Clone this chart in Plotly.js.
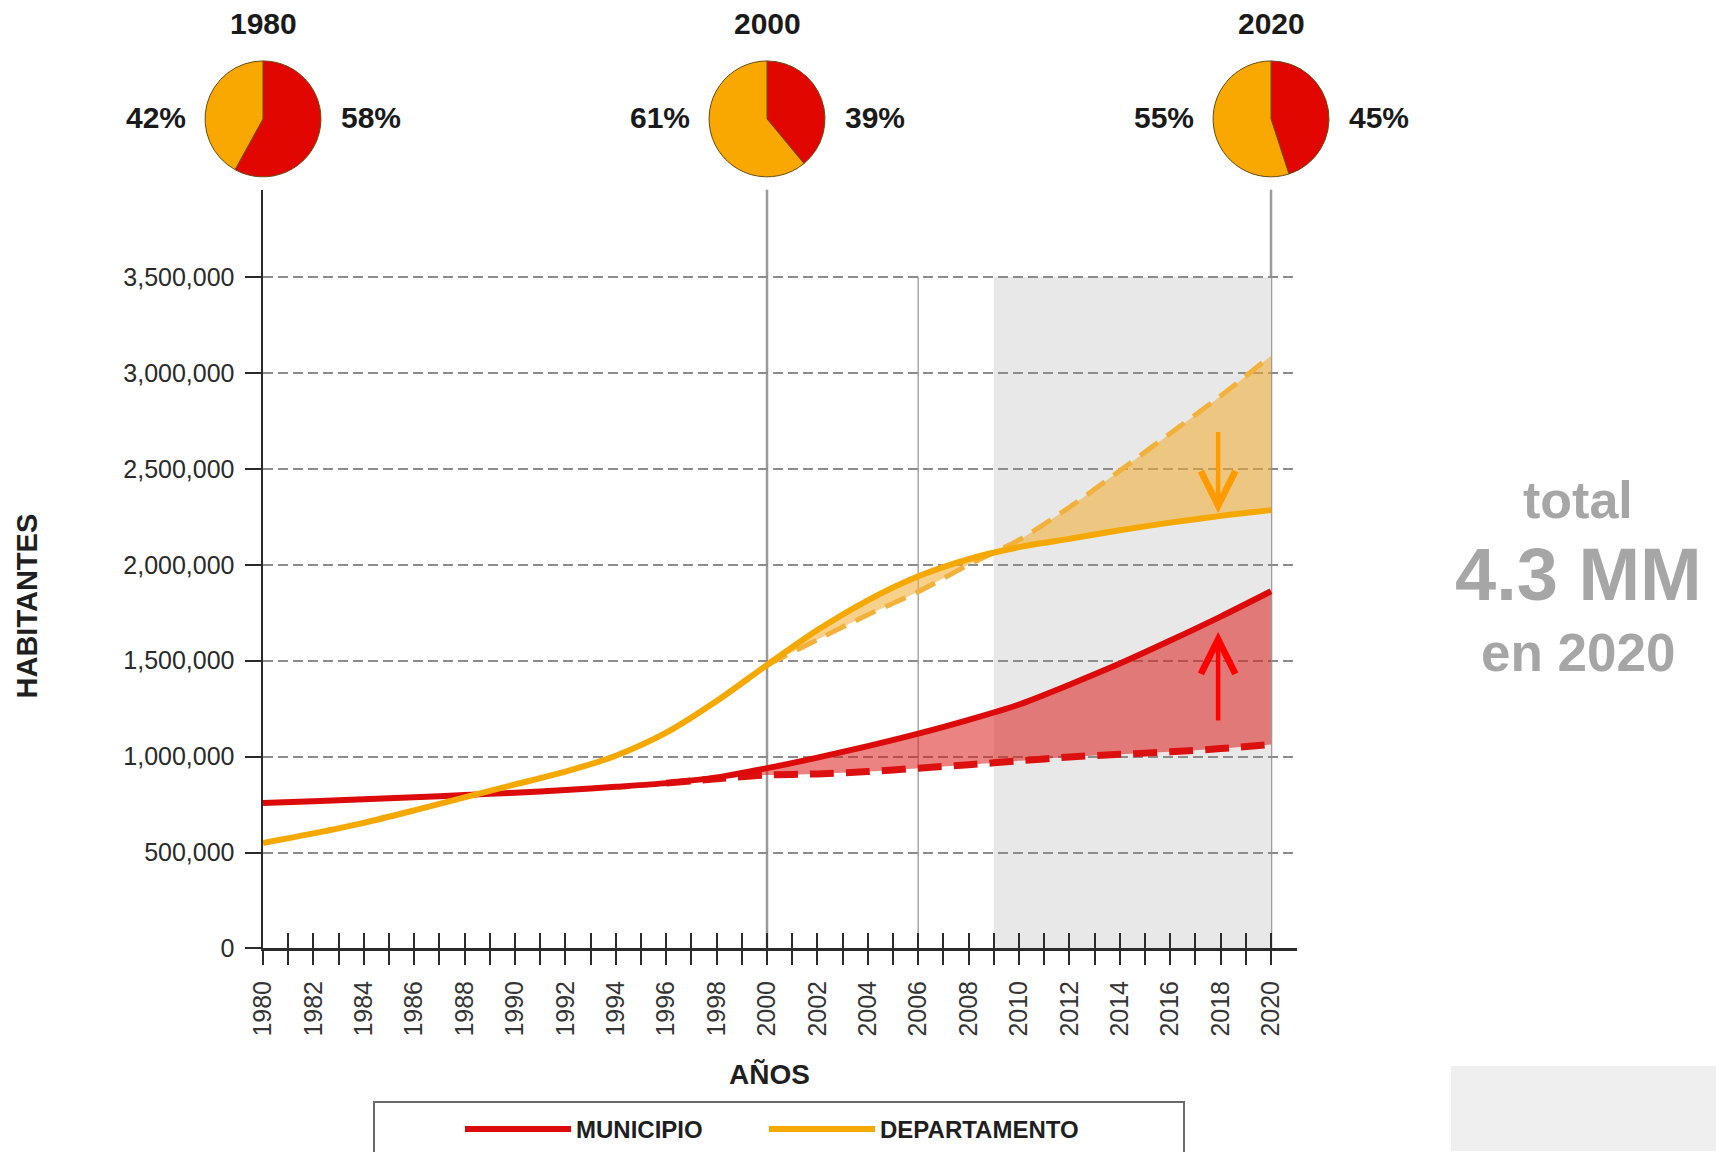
<!DOCTYPE html>
<html><head><meta charset="utf-8">
<script src="https://cdn.plot.ly/plotly-3.0.1.min.js"></script>
<style>html,body{margin:0;padding:0;background:#fff}#chart{width:1716px;height:1152px}</style>
</head><body><div id="chart"></div>
<script>
// ---------------- DATA ----------------
const years = [1980,1982,1984,1986,1988,1990,1992,1994,1996,1998,2000,2002,2004,2006,2008,2010,2012,2014,2016,2018,2020];
const municipio = [758000,768000,778000,788000,800000,812000,826000,843000,862000,892000,940000,995000,1055000,1120000,1192000,1272000,1375000,1485000,1605000,1730000,1862000];
const departamento = [550000,600000,655000,720000,788000,855000,922000,1005000,1125000,1290000,1478000,1660000,1815000,1940000,2030000,2092000,2135000,2180000,2220000,2255000,2285000];

const municipioProyYears = [1996,1998,2000,2002,2004,2006,2008,2010,2012,2014,2016,2018,2020];
const municipioProy = [862000,885000,904000,910000,922000,940000,958000,978000,998000,1012000,1025000,1042000,1063000];

const departamentoProyYears = [2000,2002,2004,2006,2008,2010,2012,2014,2016,2018,2020];
const departamentoProy = [1478000,1610000,1740000,1860000,2000000,2130000,2300000,2490000,2685000,2880000,3090000];

const pieYears = [1980, 2000, 2020];
const pieMunicipio = [58, 39, 45];
const pieDepartamento = [42, 61, 55];

const xTickYears = [1980,1981,1982,1983,1984,1985,1986,1987,1988,1989,1990,1991,1992,1993,1994,1995,1996,1997,1998,1999,2000,2001,2002,2003,2004,2005,2006,2007,2008,2009,2010,2011,2012,2013,2014,2015,2016,2017,2018,2019,2020];
const xTickLabels = ['1980','','1982','','1984','','1986','','1988','','1990','','1992','','1994','','1996','','1998','','2000','','2002','','2004','','2006','','2008','','2010','','2012','','2014','','2016','','2018','','2020'];
const yTickVals = [0,500000,1000000,1500000,2000000,2500000,3000000,3500000];
const yTickText = ['0','500,000','1,000,000','1,500,000','2,000,000','2,500,000','3,000,000','3,500,000'];

const projectionSpan = [2009, 2020];
const refLineYears = [2000, 2020];
const guideYear = 2006;
const totalLines = ['total', '4.3 MM', 'en 2020'];
const seriesNames = ['MUNICIPIO', 'DEPARTAMENTO'];

// ---------------- STYLE / LAYOUT ----------------
const W = 1716, H = 1152;
const xDom = [263/W, 1297/W];
const yDom = [(H-949.3)/H, (H-190)/H];
const xRange = [1980, 2021.03];
const yRange = [0, 3954700];
const RED = '#dc0a0a', ORANGE = '#f5a800';
const SANS = '"Liberation Sans", Arial, Helvetica, sans-serif';

function xFrac(yr){ return xDom[0] + (yr - xRange[0])/(xRange[1]-xRange[0])*(xDom[1]-xDom[0]); }

const iMun = years.indexOf(municipioProyYears[0]);
const iDep = years.indexOf(departamentoProyYears[0]);

const traces = [
  {type:'scatter', mode:'lines', x: years.slice(iDep), y: departamento.slice(iDep),
   line:{width:0, shape:'spline', smoothing:0.8, color:ORANGE}, showlegend:false, hoverinfo:'skip'},
  {type:'scatter', mode:'lines', x: departamentoProyYears, y: departamentoProy, fill:'tonexty',
   fillcolor:'rgba(240,172,45,0.55)', line:{color:'#f2b13a', width:5, dash:'22px,11px', shape:'spline', smoothing:0.8},
   showlegend:false, name:'DEPARTAMENTO (proy.)'},
  {type:'scatter', mode:'lines', x: years.slice(iMun), y: municipio.slice(iMun),
   line:{width:0, shape:'spline', smoothing:0.8, color:RED}, showlegend:false, hoverinfo:'skip'},
  {type:'scatter', mode:'lines', x: municipioProyYears, y: municipioProy, fill:'tonexty',
   fillcolor:'rgba(220,30,30,0.55)', line:{color:'#dd1010', width:7, dash:'24px,12px', shape:'spline', smoothing:0.8},
   showlegend:false, name:'MUNICIPIO (proy.)'},
  {type:'scatter', mode:'lines', name: seriesNames[0], x: years, y: municipio, legend:'legend',
   line:{color:RED, width:6, shape:'spline', smoothing:0.8}},
  {type:'scatter', mode:'lines', name: seriesNames[1], x: years, y: departamento, legend:'legend2',
   line:{color:ORANGE, width:6, shape:'spline', smoothing:0.8}},
  {type:'scatter', mode:'lines', x: [], y: [], xaxis:'x2', yaxis:'y', showlegend:false, hoverinfo:'skip'}
];

const cy = 1 - 119/H, pr = 58;
pieYears.forEach((yr, i) => {
  const cx = xFrac(yr);
  traces.push({type:'pie', values:[pieMunicipio[i], pieDepartamento[i]], labels:seriesNames,
    marker:{colors:['#e10600','#f8a800'], line:{color:'#6a4a12', width:1}},
    sort:false, direction:'clockwise', rotation:0, textinfo:'none', showlegend:false,
    domain:{x:[cx - pr/W, cx + pr/W], y:[cy - pr/H, cy + pr/H]}});
});

const bold30 = {family:SANS, size:30, weight:'bold', color:'#1a1a1a'};
const annotations = [];
pieYears.forEach((yr, i) => {
  annotations.push({xref:'x', x:yr, yref:'paper', y:1-24/H, text:String(yr), showarrow:false,
    xanchor:'center', yanchor:'middle', font:bold30});
  annotations.push({xref:'x', x:yr, xshift:-107, yref:'paper', y:1-118/H, text:pieDepartamento[i]+'%', showarrow:false,
    xanchor:'center', yanchor:'middle', font:bold30});
  annotations.push({xref:'x', x:yr, xshift:108, yref:'paper', y:1-118/H, text:pieMunicipio[i]+'%', showarrow:false,
    xanchor:'center', yanchor:'middle', font:bold30});
});
annotations.push(
  {xref:'paper', yref:'paper', x:27/W, y:1-607/H, text:'HABITANTES', textangle:-90, showarrow:false,
   xanchor:'center', yanchor:'middle', font:{family:SANS, size:29, weight:'bold', color:'#1f1f1f'}},
  {xref:'paper', yref:'paper', x:769/W, y:1-1075/H, text:'AÑOS', showarrow:false,
   xanchor:'center', yanchor:'middle', font:{family:SANS, size:28, weight:'bold', color:'#1f1f1f'}},
  {xref:'paper', yref:'paper', x:1578/W, y:1-500/H, text:totalLines[0], showarrow:false,
   xanchor:'center', yanchor:'middle', font:{family:SANS, size:52, weight:'bold', color:'#a6a6a6'}},
  {xref:'paper', yref:'paper', x:1578/W, y:1-575/H, text:totalLines[1], showarrow:false,
   xanchor:'center', yanchor:'middle', font:{family:SANS, size:74, weight:'bold', color:'#a6a6a6'}},
  {xref:'paper', yref:'paper', x:1578/W, y:1-653/H, text:totalLines[2], showarrow:false,
   xanchor:'center', yanchor:'middle', font:{family:SANS, size:53, weight:'bold', color:'#a6a6a6'}},
  {xref:'x', yref:'y', axref:'x', ayref:'y', x:2017.9, y:2270000, ax:2017.9, ay:2700000, text:'',
   showarrow:true, arrowhead:5, arrowsize:1.5, arrowwidth:4.5, arrowcolor:'#ff9a00', standoff:0},
  {xref:'x', yref:'y', axref:'x', ayref:'y', x:2017.9, y:1650000, ax:2017.9, ay:1180000, text:'',
   showarrow:true, arrowhead:5, arrowsize:1.5, arrowwidth:4.5, arrowcolor:'#ff0000', standoff:0}
);

const shapes = [
  {type:'rect', xref:'paper', yref:'paper', x0:1451/W, x1:1, y0:0, y1:1-1067/H, fillcolor:'#efefef', line:{width:0}, layer:'below'},
  {type:'rect', xref:'x', yref:'y', x0:projectionSpan[0], x1:projectionSpan[1], y0:0, y1:yTickVals[yTickVals.length-1],
   fillcolor:'#e8e8e8', line:{width:0}, layer:'below'},
  {type:'line', xref:'x', yref:'y', x0:guideYear, x1:guideYear, y0:0, y1:yTickVals[yTickVals.length-1],
   line:{color:'#a8a8a8', width:1.5}, layer:'below'},
  {type:'rect', xref:'paper', yref:'paper', x0:374/W, x1:1184/W, y0:-0.05, y1:1-1103/H,
   fillcolor:'rgba(0,0,0,0)', line:{color:'#6a6a6a', width:2}}
];
refLineYears.forEach(yr => shapes.push({type:'line', xref:'x', yref:'y domain', x0:yr, x1:yr, y0:0, y1:1,
  line:{color:'#9a9a9a', width:2.5}, layer:'below'}));

const legendFont = {family:SANS, size:24, weight:'bold', color:'#1f1f1f'};
const layout = {
  width:W, height:H, margin:{l:0, r:0, t:0, b:0},
  paper_bgcolor:'#ffffff', plot_bgcolor:'rgba(0,0,0,0)',
  hovermode:false,
  xaxis:{domain:xDom, range:xRange, tickmode:'array', tickvals:xTickYears, ticktext:xTickLabels,
    ticks:'outside', ticklen:14, tickwidth:2, tickcolor:'#2b2b2b', tickangle:-90,
    tickfont:{family:SANS, size:25, color:'#333'}, ticklabelstandoff:6,
    showline:true, linecolor:'#2b2b2b', linewidth:2.5, showgrid:false, zeroline:false, fixedrange:true},
  xaxis2:{domain:xDom, range:xRange, overlaying:'x', anchor:'y', side:'bottom', tickmode:'array', tickvals:xTickYears,
    ticks:'inside', ticklen:15, tickwidth:2, tickcolor:'#2b2b2b', showticklabels:false,
    showline:false, showgrid:false, zeroline:false, fixedrange:true},
  yaxis:{domain:yDom, range:yRange, tickmode:'array', tickvals:yTickVals, ticktext:yTickText,
    ticks:'outside', ticklen:16, tickwidth:2, tickcolor:'#2b2b2b',
    tickfont:{family:SANS, size:25, color:'#2a2a2a'}, ticklabelstandoff:5,
    showline:true, linecolor:'#2b2b2b', linewidth:2.5,
    showgrid:true, gridcolor:'#8c8c8c', gridwidth:2, griddash:'10px,5px', zeroline:false, fixedrange:true},
  showlegend:true,
  legend:{orientation:'h', x:460/W, xanchor:'left', y:1-1108/H, yanchor:'top', bgcolor:'rgba(0,0,0,0)',
    borderwidth:0, itemwidth:106, font:legendFont},
  legend2:{orientation:'h', x:764/W, xanchor:'left', y:1-1108/H, yanchor:'top', bgcolor:'rgba(0,0,0,0)',
    borderwidth:0, itemwidth:106, font:legendFont},
  annotations: annotations,
  shapes: shapes
};

Plotly.newPlot('chart', traces, layout, {displayModeBar:false, staticPlot:true});
</script>
</body></html>
